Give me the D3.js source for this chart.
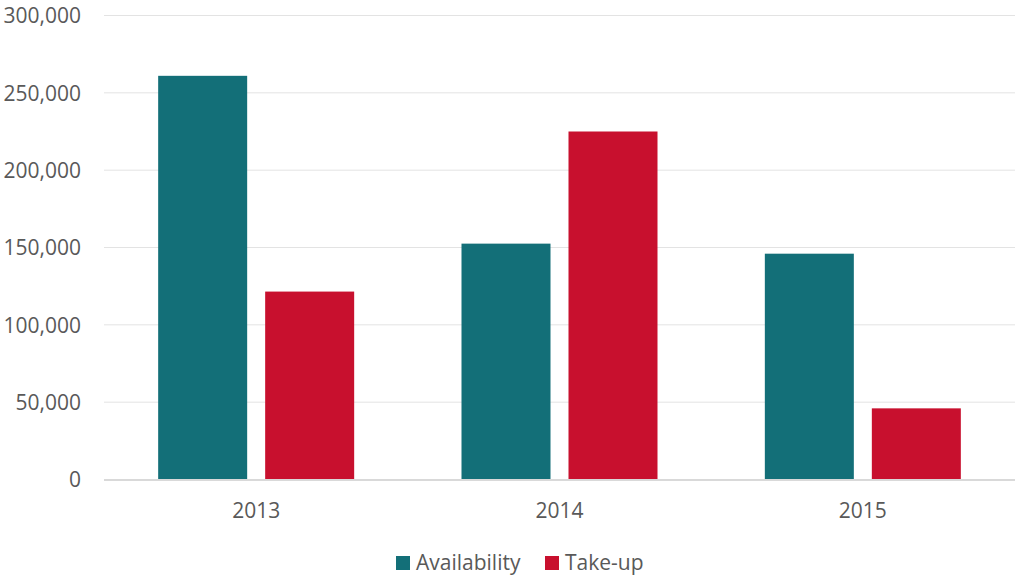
<!DOCTYPE html>
<html><head><meta charset="utf-8">
<script src="https://cdn.jsdelivr.net/npm/d3@7"></script>
<style>body{margin:0;background:#fff}svg{display:block}</style>
</head><body>
<svg id="c" width="1015" height="575"></svg>
<script>
const categories = ["2013", "2014", "2015"];
const seriesNames = ["Availability", "Take-up"];
const availability = [261000, 152500, 146000];
const takeUp = [121500, 225000, 46000];
const yTicks = [0, 50000, 100000, 150000, 200000, 250000, 300000];
const colors = ["#136F78", "#C8102E"];

const svg = d3.select("#c");
const font = "'Open Sans', sans-serif";
const fs = "21px";
const x0 = d3.scaleBand().domain(categories).range([104.5, 1014.5]).paddingInner(0).paddingOuter(0);
const y = d3.scaleLinear().domain([0, 300000]).range([479.5, 15.5]);

// gridlines
svg.append("g").selectAll("line").data(yTicks.filter(d => d > 0)).join("line")
  .attr("x1", 104).attr("x2", 1015)
  .attr("y1", d => y(d)).attr("y2", d => y(d))
  .attr("stroke", "#e3e3e3").attr("stroke-width", 1);

// y labels
const yAxis = d3.axisLeft(y).tickValues(yTicks).tickSize(0).tickPadding(0)
  .tickFormat(d3.format(","));
const ga = svg.append("g").attr("transform", "translate(81,0)").call(yAxis);
ga.select(".domain").remove();
ga.selectAll("text").attr("font-family", font).attr("font-size", fs).attr("fill", "#595959").attr("dy", "0.35em");

// bars
const data = categories.map((c, i) => ({c, vals: [availability[i], takeUp[i]]}));
const bw = 89, gap = 18;
const g = svg.append("g");
data.forEach(d => {
  const cx = x0(d.c) + x0.bandwidth() / 2;
  d.vals.forEach((v, j) => {
    const left = j === 0 ? cx - gap / 2 - bw : cx + gap / 2;
    g.append("rect").attr("x", left).attr("width", bw)
      .attr("y", y(v)).attr("height", y(0) - y(v))
      .attr("fill", colors[j]);
  });
});

// x axis line
svg.append("line").attr("x1", 104).attr("x2", 1015).attr("y1", 480).attr("y2", 480)
  .attr("stroke", "#d9d9d9").attr("stroke-width", 2);
const xAxis = d3.axisBottom(x0).tickSize(0).tickPadding(0);
const gx = svg.append("g").attr("transform", "translate(0,510.5)").call(xAxis);
gx.select(".domain").remove();
gx.selectAll("text").attr("font-family", font).attr("font-size", fs).attr("fill", "#595959").attr("dy", "0.35em");

// legend
const legendX = [396, 545];
seriesNames.forEach((n, i) => {
  const lg = svg.append("g").attr("transform", `translate(${legendX[i]},556)`);
  lg.append("rect").attr("width", 14).attr("height", 14).attr("fill", colors[i]);
  lg.append("text").attr("x", 20).attr("y", 7).attr("dy", "0.35em")
    .attr("font-family", font).attr("font-size", fs).attr("fill", "#595959").text(n);
});
</script>
</body></html>
